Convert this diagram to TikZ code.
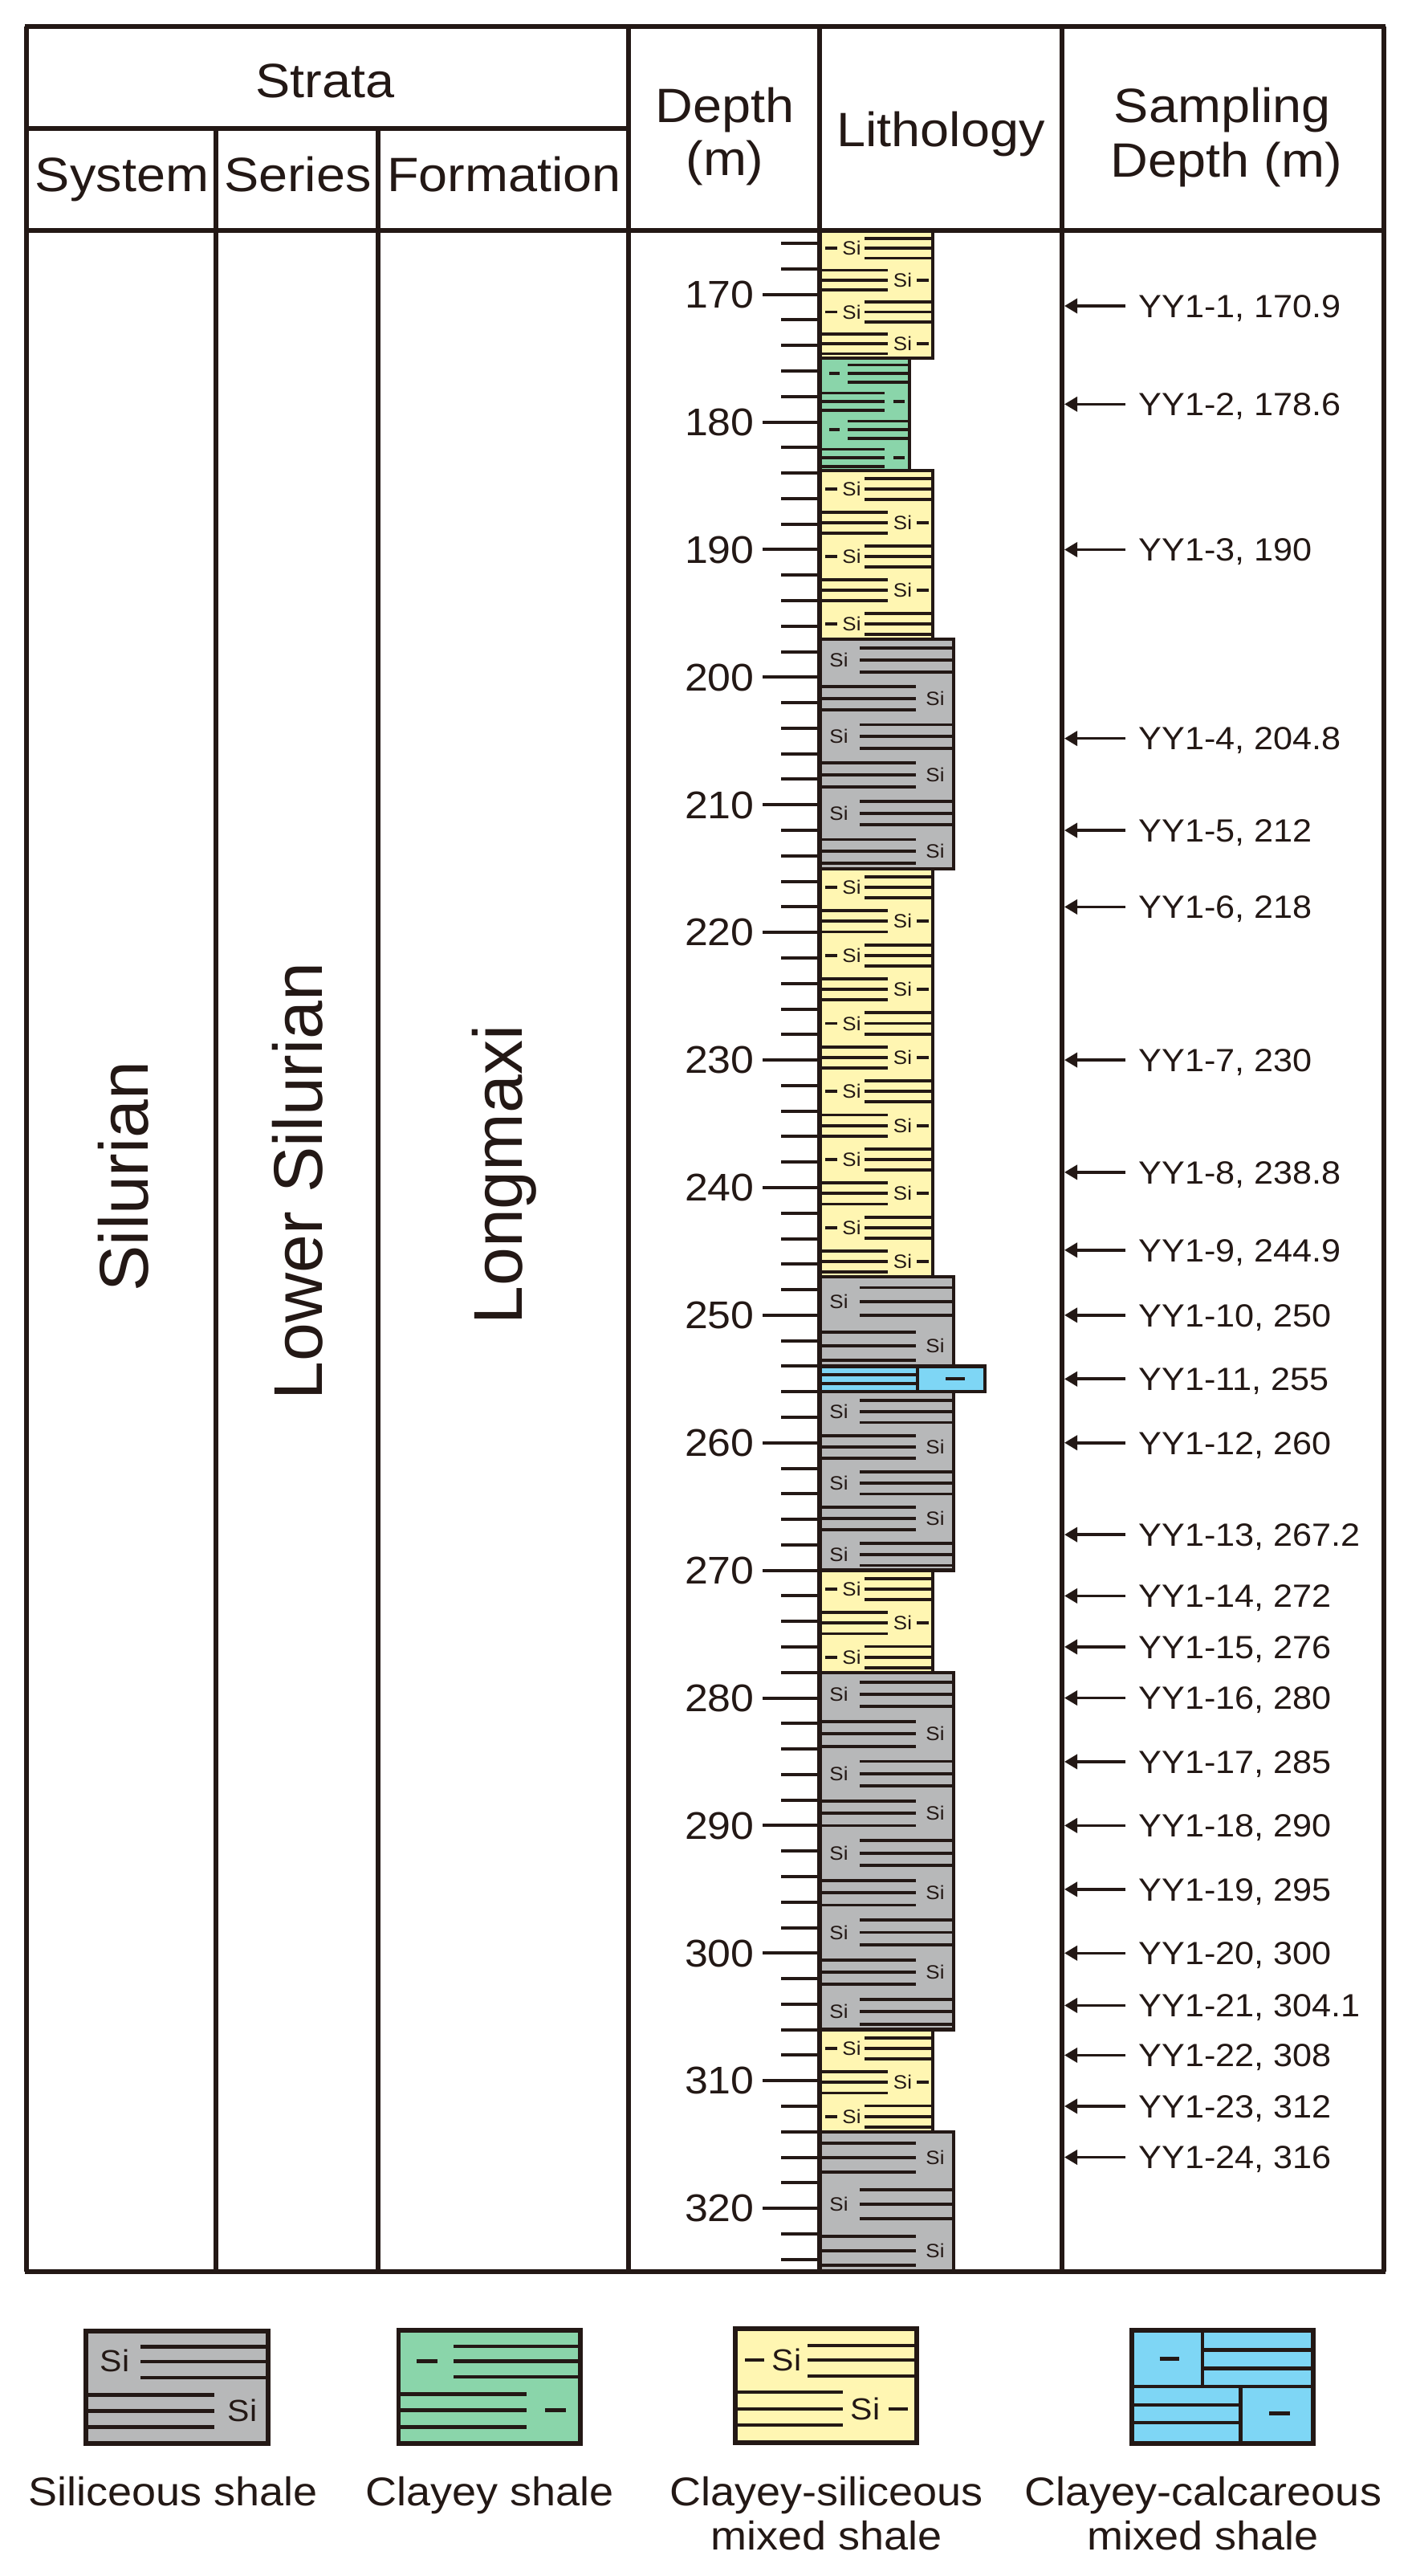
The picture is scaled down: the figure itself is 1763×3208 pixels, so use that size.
\documentclass[tikz,border=0pt]{standalone}
\usepackage{fontspec}
\setmainfont{Liberation Sans}
\newfontfamily\widefont[FakeStretch=1.08]{Liberation Sans}
\usetikzlibrary{arrows.meta}
\definecolor{ink}{RGB}{35,24,21}
\definecolor{ylw}{RGB}{255,246,178}
\definecolor{grn}{RGB}{138,213,170}
\definecolor{gry}{RGB}{183,184,185}
\definecolor{blu}{RGB}{126,214,245}
\tikzset{
 tbl/.style={draw=ink, line width=2.8pt},
 tblh/.style={draw=ink, line width=3.4pt},
 blk/.style={draw=ink, line width=2.2pt},
 hatch/.style={draw=ink, line width=1.9pt},
 tickln/.style={draw=ink, line width=2pt},
 hdr/.style={inner sep=0pt, text=ink, font=\widefont\fontsize{30pt}{36pt}\selectfont, anchor=base},
 big/.style={inner sep=0pt, text=ink, font=\fontsize{43pt}{50pt}\selectfont, rotate=90},
 dlab/.style={inner sep=0pt, text=ink, font=\widefont\fontsize{24pt}{28pt}\selectfont, anchor=base east},
 slab/.style={inner sep=0pt, text=ink, font=\widefont\fontsize{20pt}{24pt}\selectfont, anchor=base west},
 sitxt/.style={inner sep=0pt, text=ink, font=\widefont\fontsize{12pt}{14pt}\selectfont},
 legsi/.style={inner sep=0pt, text=ink, font=\widefont\fontsize{19pt}{22pt}\selectfont},
 leg/.style={inner sep=0pt, text=ink, font=\widefont\fontsize{25pt}{30pt}\selectfont, anchor=base},
 legline/.style={draw=ink, line width=2.3pt},
 smp/.style={draw=ink, line width=1.8pt, -{Triangle[length=8pt,width=9pt]}},
}
\begin{document}
\begin{tikzpicture}[x=0.5pt,y=-0.5pt]
\useasboundingbox (0,0) rectangle (1763,3208);
\fill[white] (0,0) rectangle (1763,3208);

% ---------------- lithology column ----------------
\foreach \kd/\dt/\db/\nu/\st [count=\b] in {1/165/175/4/0, 2/175/183.8/4/0, 1/183.8/197/5/0, 3/197/215/6/0, 1/215/247/12/0, 3/247/254/2/0, 3/256/270/5/0, 1/270/278/3/0, 3/278/306/9/0, 1/306/314/3/0, 3/314/325/3/1}{
  \pgfmathsetmacro\yt{366.7+(\dt-170)*15.889}
  \pgfmathsetmacro\yb{366.7+(\db-170)*15.889}
  \pgfmathsetmacro\hh{(\yb-\yt)/\nu}
  \ifcase\kd\or \def\xr{1162}\def\fc{ylw}\or \def\xr{1133}\def\fc{grn}\or \def\xr{1188}\def\fc{gry}\fi
  \fill[fill=\fc] (1021,\yt) rectangle (\xr,\yb);
  \foreach \i in {1,...,\nu}{
    \pgfmathtruncatemacro\tp{mod(\i-1+\st,2)}
    \pgfmathsetmacro\ua{\yt+(\i-1)*\hh+0.24*\hh}
    \pgfmathsetmacro\ub{\yt+(\i-1)*\hh+0.55*\hh}
    \pgfmathsetmacro\uc{\yt+(\i-1)*\hh+0.86*\hh}
    \ifnum\kd=1\relax
      \ifnum\tp=0\relax
        \draw[hatch] (1077,\ua) -- (\xr,\ua) (1077,\ub) -- (\xr,\ub) (1077,\uc) -- (\xr,\uc) (1028,\ub) -- (1043,\ub);
        \node[sitxt] (si\b-\i) at (1061,\ub) {Si};
      \else
        \draw[hatch] (1021,\ua) -- (1106,\ua) (1021,\ub) -- (1106,\ub) (1021,\uc) -- (1106,\uc) (1142,\ub) -- (1157,\ub);
        \node[sitxt] (si\b-\i) at (1124.5,\ub) {Si};
      \fi
    \fi
    \ifnum\kd=2\relax
      \ifnum\tp=0\relax
        \draw[hatch] (1056,\ua) -- (\xr,\ua) (1056,\ub) -- (\xr,\ub) (1056,\uc) -- (\xr,\uc) (1033,\ub) -- (1046,\ub);
      \else
        \draw[hatch] (1021,\ua) -- (1102,\ua) (1021,\ub) -- (1102,\ub) (1021,\uc) -- (1102,\uc) (1113,\ub) -- (1127,\ub);
      \fi
    \fi
    \ifnum\kd=3\relax
      \ifnum\tp=0\relax
        \draw[hatch] (1071,\ua) -- (\xr,\ua) (1071,\ub) -- (\xr,\ub) (1071,\uc) -- (\xr,\uc);
        \node[sitxt] (si\b-\i) at (1045,\ub) {Si};
      \else
        \draw[hatch] (1021,\ua) -- (1141,\ua) (1021,\ub) -- (1141,\ub) (1021,\uc) -- (1141,\uc);
        \node[sitxt] (si\b-\i) at (1165,\ub) {Si};
      \fi
    \fi
  }
  \draw[blk] (1021,\yt) rectangle (\xr,\yb);
}
% clayey-calcareous thin bed 254-256 m
\fill[blu] (1021,1701.4) rectangle (1226.7,1733.2);
\draw[hatch] (1021,1712) -- (1142.7,1712) (1021,1722.6) -- (1142.7,1722.6) (1178,1717.3) -- (1202,1717.3);
\draw[blk] (1021,1701.4) rectangle (1142.7,1733.2);
\draw[blk] (1142.7,1701.4) rectangle (1226.7,1733.2);

% ---------------- depth scale ----------------
\foreach \d in {166,168,...,324}{
  \pgfmathsetmacro\ty{366.7+(\d-170)*15.889}
  \pgfmathtruncatemacro\mj{mod(\d,10)==0 ? 1 : 0}
  \ifnum\mj=1\relax
    \draw[tickln] (950,\ty) -- (1021,\ty);
    \node[dlab] (dl\d) at (940,{\ty+16.8}) {\d};
  \else
    \draw[tickln] (973,\ty) -- (1021,\ty);
  \fi
}

% ---------------- table ----------------
\draw[tblh] (31,33) -- (1726,33);
\draw[tblh] (33,160) -- (783,160);
\draw[tblh] (31,287) -- (1726,287);
\draw[tblh] (31,2829) -- (1726,2829);
\foreach \xx in {33,783,1021,1323,1724}{\draw[tbl] (\xx,33) -- (\xx,2829);}
\foreach \xx in {269,471}{\draw[tbl] (\xx,160) -- (\xx,2829);}

% headers
\node[hdr] (hstrata) at (405,121) {Strata};
\node[hdr] (hsystem) at (152,238) {System};
\node[hdr] (hseries) at (371,238) {Series};
\node[hdr] (hform) at (628,238) {Formation};
\node[hdr] (hdepth1) at (903,152) {Depth};
\node[hdr] (hdepth2) at (903,218) {(m)};
\node[hdr] (hlith) at (1172,182) {Lithology};
\node[hdr] (hsamp1) at (1523,152) {Sampling};
\node[hdr] (hsamp2) at (1528,220) {Depth (m)};

% strata names
\node[big] (nsys) at (154,1465) {Silurian};
\node[big] (nser) at (371,1471) {Lower Silurian};
\node[big] (nfor) at (628,1463) {Longmaxi};

% ---------------- samples ----------------
\foreach \dd [count=\sn] in {170.9,178.6,190,204.8,212,218,230,238.8,244.9,250,255,260,267.2,272,276,280,285,290,295,300,304.1,308,312,316}{
  \pgfmathsetmacro\sy{366.7+(\dd-170)*15.889}
  \coordinate (st\sn) at (1402,\sy);
  \coordinate (sh\sn) at (1326,\sy);
  \draw[smp] (st\sn) -- (sh\sn);
  \node[slab] (sl\sn) at (1418,{\sy+14.3}) {YY1-\sn, \dd};
}

% ---------------- legend ----------------
% siliceous shale
\fill[gry] (107,2903) rectangle (334,3043);
\draw[legline] (175,2922.7) -- (334,2922.7) (175,2941) -- (334,2941) (175,2961) -- (334,2961);
\draw[legline] (107,2982.7) -- (267,2982.7) (107,3002.7) -- (267,3002.7) (107,3022.7) -- (267,3022.7);
\node[legsi] (lsi1) at (143,2940) {Si};
\node[legsi] (lsi2) at (302,3002) {Si};
\draw[blk, line width=2.6pt] (107,2903) rectangle (334,3043);
% clayey shale
\fill[grn] (496.5,2902) rectangle (723,3043);
\draw[legline] (565,2922) -- (723,2922) (565,2940.7) -- (723,2940.7) (565,2960) -- (723,2960) (519,2940.7) -- (545,2940.7);
\draw[legline] (496.5,2981.7) -- (656,2981.7) (496.5,3001.7) -- (656,3001.7) (496.5,3022.3) -- (656,3022.3) (679,3001.7) -- (705,3001.7);
\draw[blk, line width=2.6pt] (496.5,2902) rectangle (723,3043);
% clayey-siliceous mixed shale
\fill[ylw] (916,2900) rectangle (1142,3042);
\draw[legline] (1006,2921) -- (1142,2921) (1006,2939) -- (1142,2939) (1006,2959) -- (1142,2959) (928,2939) -- (952,2939);
\draw[legline] (916,2979) -- (1050,2979) (916,3000) -- (1050,3000) (916,3020) -- (1050,3020) (1106.5,3000) -- (1130.7,3000);
\node[legsi] (lsi3) at (980,2939) {Si};
\node[legsi] (lsi4) at (1078,3000) {Si};
\draw[blk, line width=2.6pt] (916,2900) rectangle (1142,3042);
% clayey-calcareous mixed shale
\fill[blu] (1410,2902) rectangle (1636,3043);
\draw[legline] (1410,2972) -- (1636,2972) (1498,2902) -- (1498,2972) (1498,2926.7) -- (1636,2926.7) (1498,2949.3) -- (1636,2949.3) (1444.6,2937.7) -- (1469.4,2937.7);
\draw[legline] (1410,2995) -- (1545.4,2995) (1410,3017) -- (1545.4,3017) (1545.4,2972) -- (1545.4,3043) (1581,3005.7) -- (1607,3005.7);
\draw[blk, line width=2.6pt] (1410,2902) rectangle (1636,3043);

\node[leg] (lt1) at (216,3120) {Siliceous shale};
\node[leg] (lt2) at (610,3120) {Clayey shale};
\node[leg] (lt3a) at (1030,3120) {Clayey-siliceous};
\node[leg] (lt3b) at (1030,3175) {mixed shale};
\node[leg] (lt4a) at (1499,3120) {Clayey-calcareous};
\node[leg] (lt4b) at (1499,3175) {mixed shale};
\end{tikzpicture}
\end{document}
